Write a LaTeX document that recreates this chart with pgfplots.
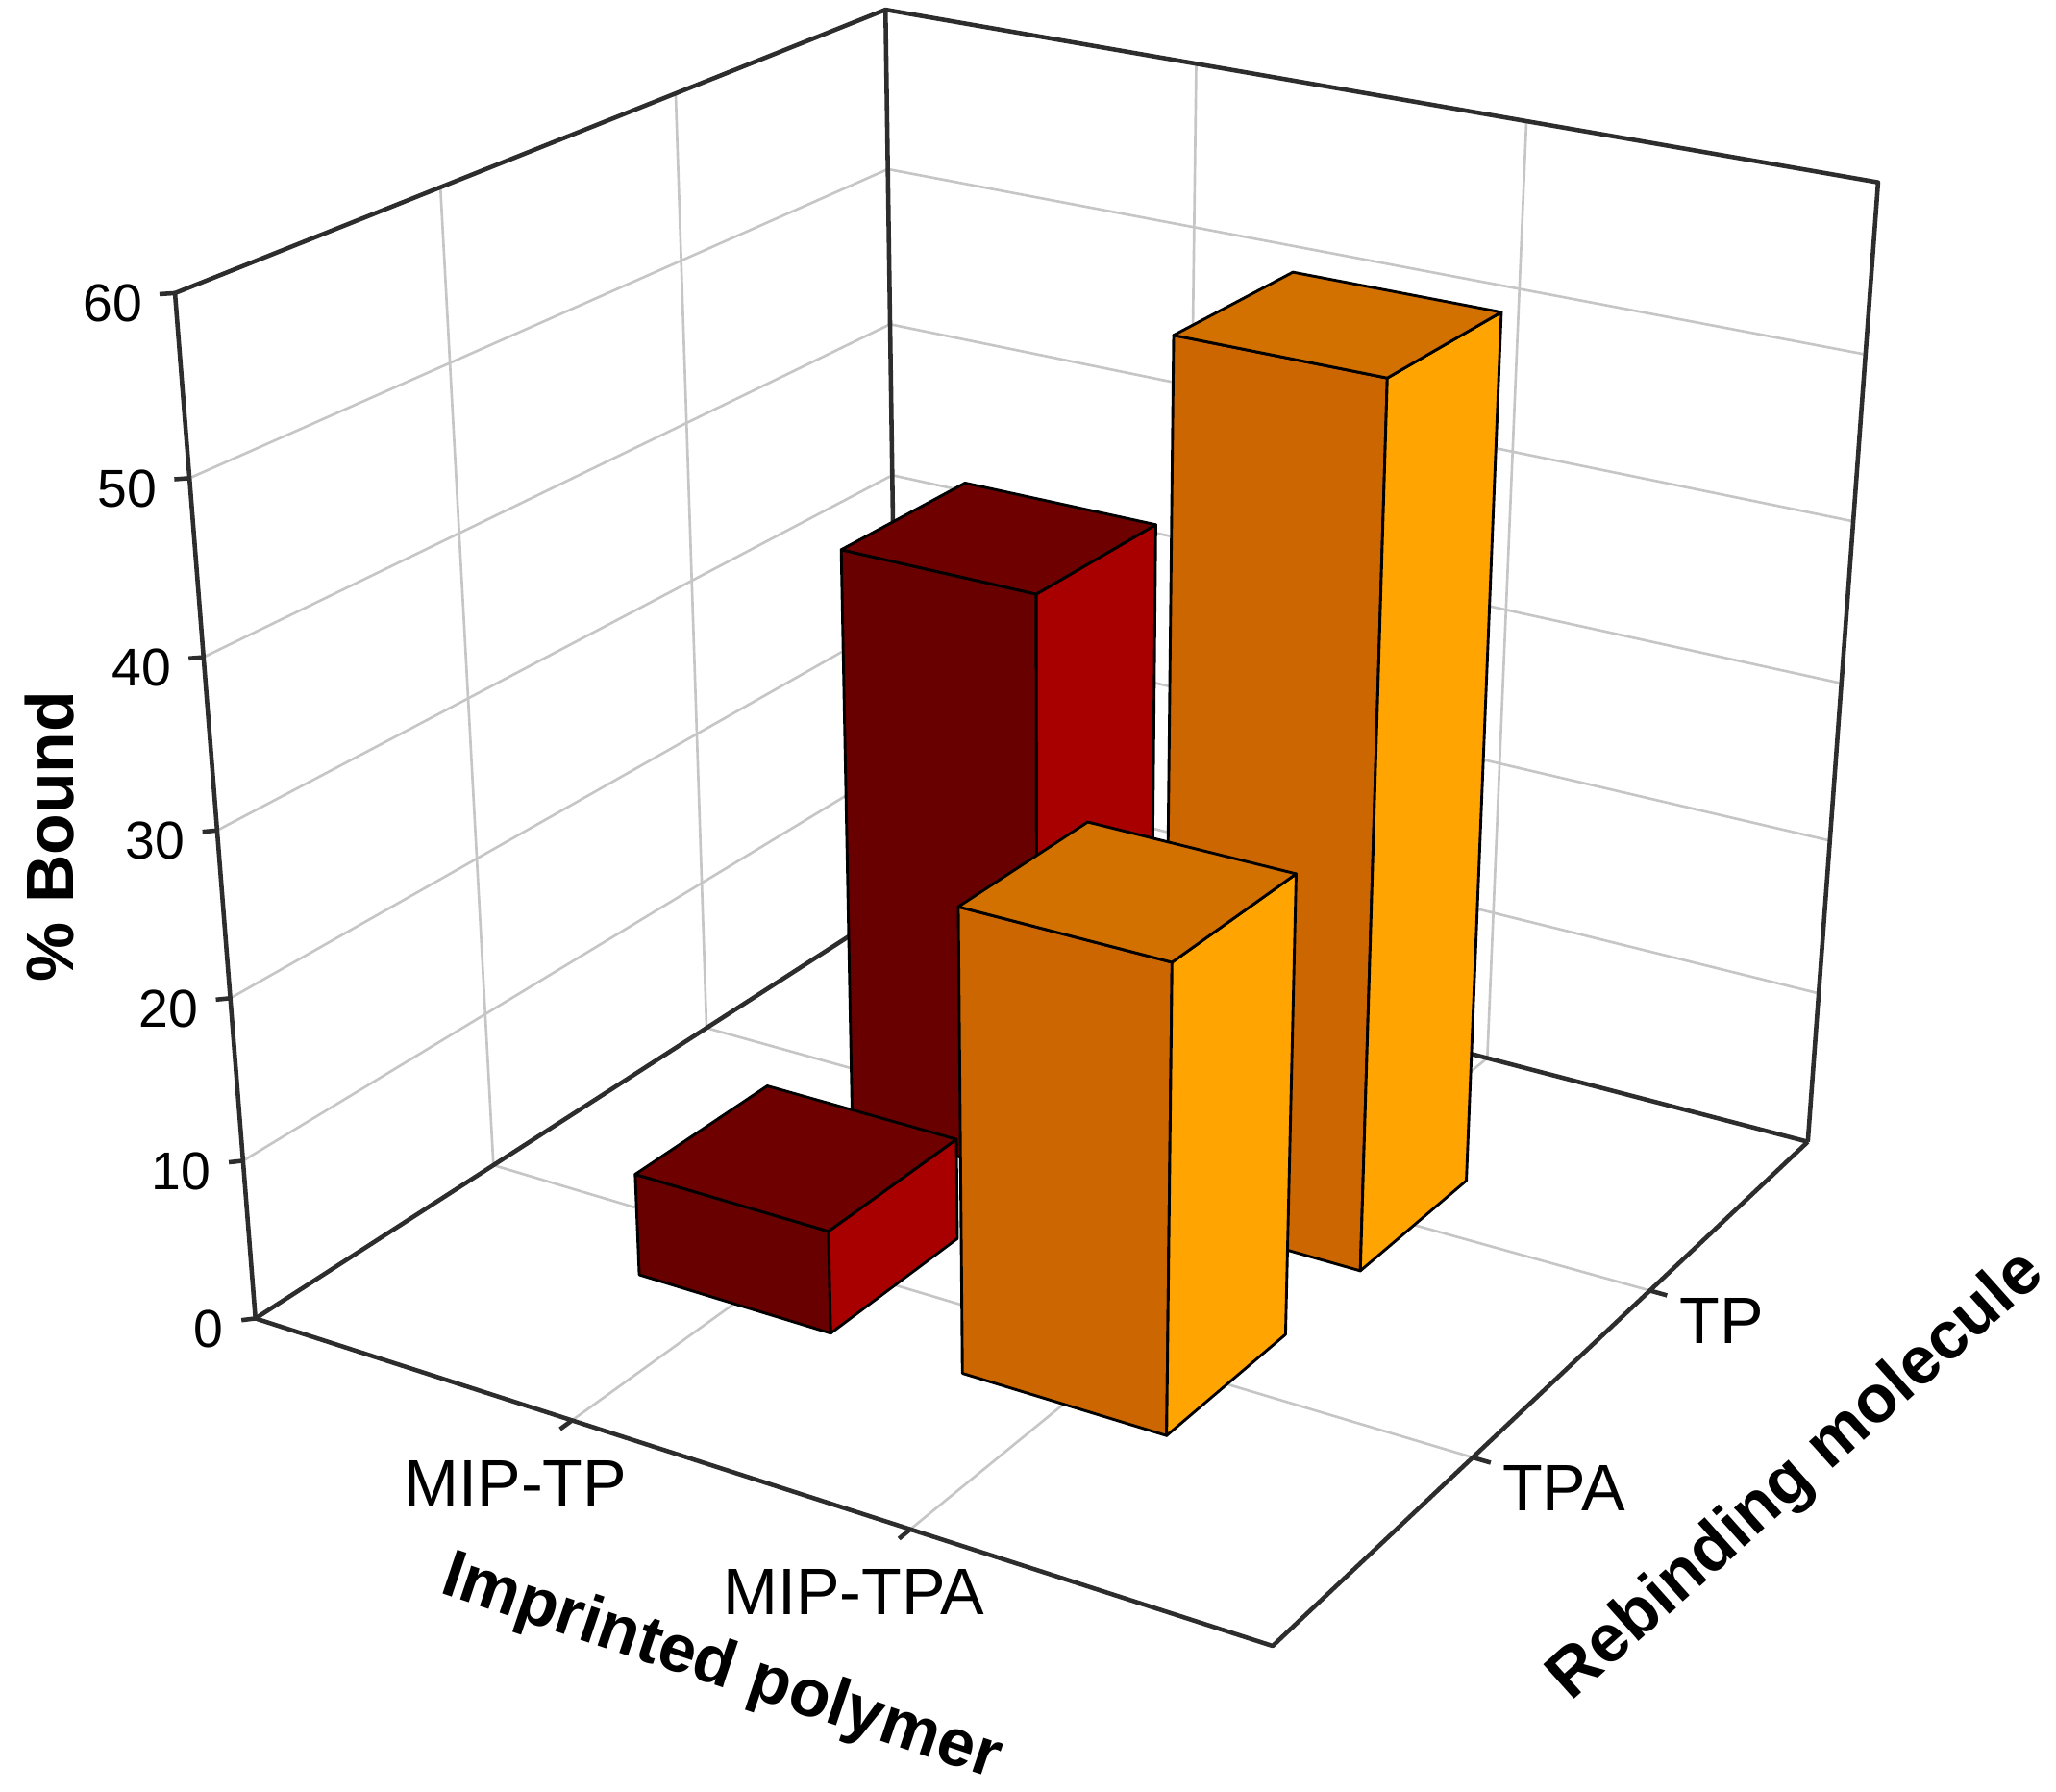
\documentclass[border=0pt]{standalone}
\usepackage{fontspec}
\setmainfont{Liberation Sans}
\usepackage{pgfplots}
\usepackage{pgfplotstable}
\pgfplotsset{compat=1.18}

\definecolor{redfront}{RGB}{104,0,0}
\definecolor{redside}{RGB}{168,0,0}
\definecolor{redtop}{RGB}{110,0,0}
\definecolor{orfront}{RGB}{204,102,0}
\definecolor{orside}{RGB}{255,164,0}
\definecolor{ortop}{RGB}{210,112,0}
\definecolor{gridc}{RGB}{198,198,198}
\definecolor{edgec}{RGB}{45,45,45}

% face templates of one bar (offsets from the bar centre, fraction of its height)
\pgfplotstableread[row sep=\\]{ds dt f\\ -0.3 -0.3 0\\ 0.3 -0.3 0\\ 0.3 -0.3 1\\ -0.3 -0.3 1\\ -0.3 -0.3 0\\}\facefront
\pgfplotstableread[row sep=\\]{ds dt f\\ 0.3 -0.3 0\\ 0.3 0.3 0\\ 0.3 0.3 1\\ 0.3 -0.3 1\\ 0.3 -0.3 0\\}\faceside
\pgfplotstableread[row sep=\\]{ds dt f\\ -0.3 -0.3 1\\ 0.3 -0.3 1\\ 0.3 0.3 1\\ -0.3 0.3 1\\ -0.3 -0.3 1\\}\facetop

\newcommand\pth[2]{\addplot[#1] table[row sep=\\, x expr={PX(\thisrow{s},\thisrow{t},\thisrow{z})}, y expr={PY(\thisrow{s},\thisrow{t},\thisrow{z})}]{s t z\\ #2};}

% #1 imprinted polymer position, #2 rebinding molecule position, #3 % bound
\newcommand\drawbar[6]{%
 \addplot[fill=#4, draw=black, line width=0.6pt, line join=round, line cap=round] table[x expr={PX(#1+\thisrow{ds},#2+\thisrow{dt},#3*\thisrow{f})}, y expr={PY(#1+\thisrow{ds},#2+\thisrow{dt},#3*\thisrow{f})}]{\facefront};
 \addplot[fill=#5, draw=black, line width=0.6pt, line join=round, line cap=round] table[x expr={PX(#1+\thisrow{ds},#2+\thisrow{dt},#3*\thisrow{f})}, y expr={PY(#1+\thisrow{ds},#2+\thisrow{dt},#3*\thisrow{f})}]{\faceside};
 \addplot[fill=#6, draw=black, line width=0.6pt, line join=round, line cap=round] table[x expr={PX(#1+\thisrow{ds},#2+\thisrow{dt},#3*\thisrow{f})}, y expr={PY(#1+\thisrow{ds},#2+\thisrow{dt},#3*\thisrow{f})}]{\facetop};
}

\begin{document}
\begin{tikzpicture}[declare function={
 WW(\sa,\ta,\za)=1-0.03196*\sa+0.058367*\ta-0.00152833*\za;
 PX(\sa,\ta,\za)=(226.76*\sa+202.753*\ta+194.1-1.222*\za)/WW(\sa,\ta,\za);
 PY(\sa,\ta,\za)=-(42.937*\sa-64.763*\ta+1001.7-13.3233*\za)/WW(\sa,\ta,\za);
}]
\begin{axis}[hide axis, scale only axis, width=156mm, height=134.93mm,
  xmin=0, xmax=1560.2, ymin=-1349.4, ymax=0, clip=false]
\addplot[draw=none] coordinates {(0,0) (1560.2,-1349.4)};

% wall gridlines
\pth{gridc, line width=0.55pt}{0 0 10\\ 0 3 10\\ 3 3 10\\}
\pth{gridc, line width=0.55pt}{0 0 20\\ 0 3 20\\ 3 3 20\\}
\pth{gridc, line width=0.55pt}{0 0 30\\ 0 3 30\\ 3 3 30\\}
\pth{gridc, line width=0.55pt}{0 0 40\\ 0 3 40\\ 3 3 40\\}
\pth{gridc, line width=0.55pt}{0 0 50\\ 0 3 50\\ 3 3 50\\}
\pth{gridc, line width=0.55pt}{0 1 0\\ 0 1 60\\}
\pth{gridc, line width=0.55pt}{0 2 0\\ 0 2 60\\}
\pth{gridc, line width=0.55pt}{1 3 0\\ 1 3 60\\}
\pth{gridc, line width=0.55pt}{2 3 0\\ 2 3 60\\}
% floor gridlines
\pth{gridc, line width=0.55pt}{1 0 0\\ 1 3 0\\}
\pth{gridc, line width=0.55pt}{2 0 0\\ 2 3 0\\}
\pth{gridc, line width=0.55pt}{0 1 0\\ 3 1 0\\}
\pth{gridc, line width=0.55pt}{0 2 0\\ 3 2 0\\}
% box edges
\pth{edgec, line width=0.95pt, line join=round}{3 3 0\\ 3 3 60\\ 0 3 60\\ 0 0 60\\ 0 0 0\\ 3 0 0\\ 3 3 0\\}
\pth{edgec, line width=0.95pt, line join=round}{0 3 60\\ 0 3 0\\}
\pth{edgec, line width=0.95pt, line join=round}{0 0 0\\ 0 3 0\\ 3 3 0\\}
% ticks
\pth{edgec, line width=0.95pt}{0 0 0\\ -0.025 -0.025 0\\}
\pth{edgec, line width=0.95pt}{0 0 10\\ -0.025 -0.025 10\\}
\pth{edgec, line width=0.95pt}{0 0 20\\ -0.025 -0.025 20\\}
\pth{edgec, line width=0.95pt}{0 0 30\\ -0.025 -0.025 30\\}
\pth{edgec, line width=0.95pt}{0 0 40\\ -0.025 -0.025 40\\}
\pth{edgec, line width=0.95pt}{0 0 50\\ -0.025 -0.025 50\\}
\pth{edgec, line width=0.95pt}{0 0 60\\ -0.025 -0.025 60\\}
\pth{edgec, line width=0.95pt}{1 0 0\\ 1 -0.05 0\\}
\pth{edgec, line width=0.95pt}{2 0 0\\ 2 -0.05 0\\}
\pth{edgec, line width=0.95pt}{3 1 0\\ 3.05 1 0\\}
\pth{edgec, line width=0.95pt}{3 2 0\\ 3.05 2 0\\}

% bars: MIP-TP (s=1), MIP-TPA (s=2); TPA (t=1), TP (t=2)
\drawbar{1}{2}{37.2}{redfront}{redside}{redtop}
\drawbar{2}{2}{54.0}{orfront}{orside}{ortop}
\drawbar{1}{1}{6.5}{redfront}{redside}{redtop}
\drawbar{2}{1}{28.5}{orfront}{orside}{ortop}

% tick labels
\addplot[draw=none, mark=none, nodes near coords, point meta=explicit symbolic,
  every node near coord/.append style={anchor=east, inner sep=0pt, xshift=-2.4mm, yshift=-0.8mm, text=black, font=\fontsize{11.5}{13.8}\selectfont}]
  table[row sep=\\, meta=lab, x expr={PX(\thisrow{s},\thisrow{t},\thisrow{z})}, y expr={PY(\thisrow{s},\thisrow{t},\thisrow{z})}]
  {s t z lab\\ 0 0 0 0\\ 0 0 10 10\\ 0 0 20 20\\ 0 0 30 30\\ 0 0 40 40\\ 0 0 50 50\\ 0 0 60 60\\};
\addplot[draw=none, mark=none, nodes near coords, point meta=explicit symbolic,
  every node near coord/.append style={anchor=center, inner sep=0pt, xshift=-4.3mm, yshift=-4.8mm, text=black, font=\fontsize{14.2}{17}\selectfont}]
  table[row sep=\\, meta=lab, x expr={PX(\thisrow{s},\thisrow{t},\thisrow{z})}, y expr={PY(\thisrow{s},\thisrow{t},\thisrow{z})}]
  {s t z lab\\ 1 0 0 MIP-TP\\ 2 0 0 MIP-TPA\\};
\addplot[draw=none, mark=none, nodes near coords, point meta=explicit symbolic,
  every node near coord/.append style={anchor=west, inner sep=0pt, xshift=2.2mm, yshift=-2.3mm, text=black, font=\fontsize{14.2}{17}\selectfont}]
  table[row sep=\\, meta=lab, x expr={PX(\thisrow{s},\thisrow{t},\thisrow{z})}, y expr={PY(\thisrow{s},\thisrow{t},\thisrow{z})}]
  {s t z lab\\ 3 1 0 TPA\\ 3 2 0 TP\\};

% axis titles
\node[rotate=90, inner sep=0pt, font=\bfseries\fontsize{14.5}{17}\selectfont] at (axis cs:38,-635.5) {\% Bound};
\node[rotate=-18.6, inner sep=0pt, font=\bfseries\fontsize{14.5}{17}\selectfont] at (axis cs:548,-1268) {Imprinted polymer};
\node[rotate=41.8, inner sep=0pt, font=\bfseries\fontsize{14.5}{17}\selectfont] at (axis cs:1366,-1122) {Rebinding molecule};
\end{axis}
\end{tikzpicture}
\end{document}
